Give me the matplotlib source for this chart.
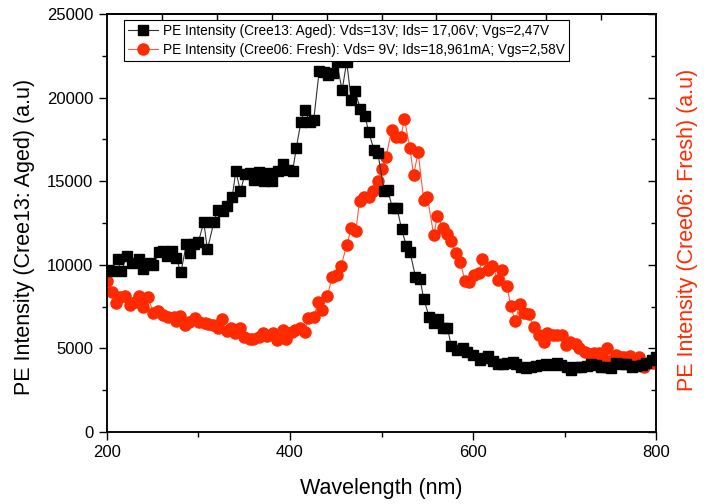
import matplotlib
matplotlib.use("Agg")
import matplotlib.pyplot as plt
from matplotlib.ticker import MultipleLocator

plt.rcParams['font.family'] = ['Liberation Sans', 'DejaVu Sans']

# ---- Data ----
aged_x = [202, 205, 212, 216, 222, 228, 235, 240, 247, 251, 257, 262, 266, 271, 276, 281,
          287, 291, 295, 300, 306, 310, 317, 321, 327, 331, 337, 341, 346, 351, 356, 361,
          366, 372, 376, 381, 387, 392, 398, 403, 407, 412, 416, 422, 426, 432, 437, 442,
          447, 451, 457, 462, 467, 471, 477, 482, 486, 492, 496, 503, 507, 512, 517, 522,
          527, 531, 537, 542, 546, 552, 557, 562, 567, 572, 576, 582, 589, 593, 600, 607,
          612, 616, 622, 627, 633, 637, 643, 647, 652, 658, 663, 669, 674, 680, 685, 691,
          696, 702, 707, 713, 718, 724, 729, 734, 740, 745, 751, 756, 762, 767, 773, 778,
          784, 789, 795, 800]
aged_y = [9660, 9610, 10320, 9600, 10500, 10080, 10320, 9720, 10080, 9960, 10740, 10800,
          10500, 10800, 10380, 9540, 11220, 10680, 11220, 11340, 12540, 10920, 12540, 13260,
          13200, 13500, 14040, 15600, 14400, 15420, 15480, 15060, 15540, 15000, 15480, 15000,
          15600, 16020, 15660, 15600, 16980, 18540, 19240, 18540, 18660, 21600, 21540, 21360,
          21480, 22140, 20440, 22140, 19840, 20380, 19320, 18900, 17930, 16850, 16670, 14390,
          14450, 13370, 13370, 12110, 11150, 10790, 9290, 9170, 7970, 6900, 6540, 6780,
          6240, 6240, 5160, 4920, 5040, 4800, 4620, 4320, 4440, 4560, 4260, 4080, 4080,
          4140, 4200, 4080, 3900, 3840, 3900, 3960, 4020, 4080, 4020, 4140, 4020, 3900,
          3720, 3900, 3900, 3960, 4080, 4020, 3900, 3900, 3840, 4140, 4080, 4080, 3900,
          3960, 4020, 4140, 4320, 4500]

fresh_x = [200, 206, 210, 215, 220, 226, 231, 235, 240, 245, 251, 256, 262, 267, 273, 276,
           280, 286, 290, 296, 301, 307, 311, 316, 321, 326, 331, 336, 340, 346, 350, 356,
           360, 366, 371, 375, 382, 386, 392, 396, 402, 406, 411, 416, 420, 426, 431, 435,
           441, 446, 451, 456, 462, 467, 472, 476, 481, 486, 491, 496, 501, 505, 511, 516,
           521, 525, 531, 535, 540, 546, 550, 557, 561, 567, 571, 576, 581, 586, 591, 596,
           601, 606, 610, 616, 621, 627, 631, 637, 641, 646, 651, 655, 661, 666, 672, 677,
           681, 687, 692, 697, 701, 706, 712, 716, 722, 727, 732, 737, 741, 746, 751, 756,
           761, 765, 771, 776, 781, 786, 791, 796, 800]
fresh_y = [9030, 8370, 7710, 8070, 8130, 7590, 7770, 8130, 7480, 8070, 7120, 7240, 7000,
           6880, 6880, 6640, 6940, 6400, 6580, 6820, 6580, 6520, 6460, 6400, 6220, 6760,
           6040, 6220, 5920, 6220, 5680, 5560, 5560, 5680, 5920, 5740, 5920, 5500, 6100,
           5560, 5980, 6100, 6220, 5980, 6820, 6880, 7770, 7300, 8130, 9270, 9390, 9930,
           11180, 12200, 12020, 13810, 14050, 14050, 14410, 15010, 15730, 16450, 18060,
           17640, 17640, 18720, 16980, 15370, 16740, 13870, 14050, 11780, 12920, 12200,
           11840, 11420, 10700, 10170, 9030, 8970, 9390, 9510, 10350, 9690, 9930, 9090,
           9690, 8730, 7530, 6640, 7650, 7120, 7060, 6280, 5800, 5380, 5920, 5800, 5800,
           5800, 5200, 5380, 5260, 5020, 4780, 4660, 4720, 4720, 4540, 5020, 4250, 4600,
           4490, 4490, 4540, 4370, 4490, 3890, 4130, 4130, 4310]

aged_label = "PE Intensity (Cree13: Aged): Vds=13V; Ids= 17,06V; Vgs=2,47V"
fresh_label = "PE Intensity (Cree06: Fresh): Vds= 9V; Ids=18,961mA; Vgs=2,58V"
xlabel = "Wavelength (nm)"
ylabel_left = "PE Intensity (Cree13: Aged) (a.u)"
ylabel_right = "PE Intensity (Cree06: Fresh) (a.u)"
top_ticks = [260, 320, 380, 440, 500, 560, 620, 680, 740]

RED = '#ff2a00'

fig = plt.figure(figsize=(7.09, 5.04), dpi=100)
ax = fig.add_axes([0.1504, 0.1429, 0.7754, 0.8294])
ax2 = ax.twinx()

l1, = ax.plot(aged_x, aged_y, color='#333333', lw=0.8, marker='s', ms=7.2,
              mfc='black', mec='black', label=aged_label, zorder=3)
l2, = ax2.plot(fresh_x, fresh_y, color='#ff5a3c', lw=0.8, marker='o', ms=8,
               mfc=RED, mec=RED, label=fresh_label, zorder=3)

for a in (ax, ax2):
    a.set_xlim(200, 800)
    a.set_ylim(0, 25000)

ax.xaxis.set_major_locator(MultipleLocator(200))
ax.xaxis.set_minor_locator(MultipleLocator(100))
ax.yaxis.set_major_locator(MultipleLocator(5000))
ax.yaxis.set_minor_locator(MultipleLocator(2500))
ax2.yaxis.set_major_locator(MultipleLocator(5000))
ax2.yaxis.set_minor_locator(MultipleLocator(2500))

ax.tick_params(axis='both', which='major', direction='out', length=6, width=1,
               labelsize=12, top=False, right=False)
ax.tick_params(axis='both', which='minor', direction='out', length=3.5, width=1,
               top=False, right=False)
ax2.tick_params(axis='y', which='major', direction='in', length=6, width=1, labelright=False)
ax2.tick_params(axis='y', which='minor', direction='in', length=3.5, width=1)

sec = ax.secondary_xaxis('top')
sec.set_xticks(top_ticks)
sec.set_xticklabels([])
sec.tick_params(direction='in', length=4.5, width=1)
sec.xaxis.set_minor_locator(plt.NullLocator())

for a in (ax, ax2):
    for s in a.spines.values():
        s.set_linewidth(1.1)
sec.spines['top'].set_linewidth(1.1)

ax.set_xlabel(xlabel, fontsize=15.5, labelpad=13)
ax.set_ylabel(ylabel_left, fontsize=15.5)
ax.yaxis.set_label_coords(-0.130, 0.466)
ax2.set_ylabel(ylabel_right, fontsize=15.5, color=RED)
ax2.yaxis.set_label_coords(1.037, 0.483)

ax.set_zorder(ax2.get_zorder() + 1)
ax.patch.set_visible(False)

leg = ax.legend(handles=[l1, l2], loc='upper left', bbox_to_anchor=(0.031, 0.986),
                fontsize=9.8, frameon=True, fancybox=False, edgecolor='black',
                framealpha=1, handlelength=2.2, borderpad=0.3, labelspacing=0.35,
                handletextpad=0.4, borderaxespad=0)
leg.get_frame().set_linewidth(0.8)

fig.savefig('out.png', dpi=100)
